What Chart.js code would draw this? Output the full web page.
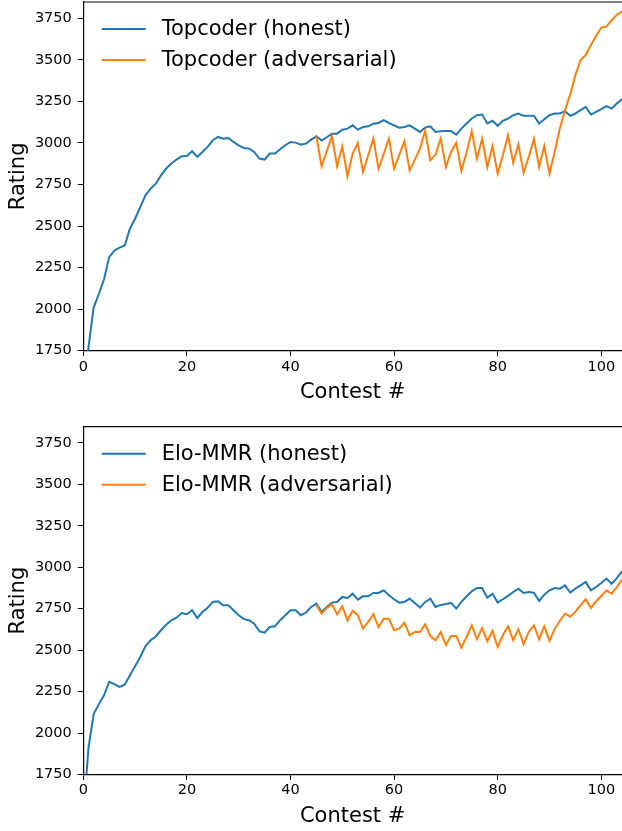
<!DOCTYPE html>
<html>
<head>
<meta charset="utf-8">
<script src="https://cdn.jsdelivr.net/npm/chart.js@4.4.1/dist/chart.umd.min.js"></script>
<style>
  html, body { margin: 0; padding: 0; background: #fff; }
  body { width: 622px; height: 831px; position: relative; overflow: hidden; }
  .box { position: absolute; left: 0; width: 622px; }
  #topBox { top: 0; height: 413px; }
  #botBox { top: 413px; height: 418px; }
</style>
</head>
<body>
<div class="box" id="topBox"><canvas id="topChart"></canvas></div>
<div class="box" id="botBox"><canvas id="botChart"></canvas></div>
<script>
// ratings per contest, honest series start at contest 0, adversarial at advStart
const advStart = 45;

const topcoderHonest = [
  1500, 1770, 2011, 2090, 2180, 2313, 2353, 2370, 2383, 2484,
  2544, 2614, 2685, 2725, 2755, 2805, 2846, 2876, 2900, 2920,
  2922, 2950, 2916, 2946, 2976, 3016, 3036, 3026, 3030, 3006,
  2986, 2970, 2966, 2946, 2906, 2900, 2936, 2936, 2962, 2986,
  3006, 3002, 2990, 2996, 3020, 3040, 3014, 3034, 3056, 3056,
  3080, 3086, 3106, 3080, 3096, 3100, 3116, 3120, 3137, 3120,
  3106, 3092, 3096, 3106, 3086, 3066, 3092, 3100, 3066, 3070,
  3072, 3072, 3050, 3086, 3117, 3147, 3167, 3171, 3117, 3133,
  3103, 3133, 3147, 3167, 3177, 3163, 3163, 3163, 3117, 3143,
  3167, 3177, 3177, 3191, 3163, 3177, 3197, 3217, 3171, 3187,
  3203, 3221, 3207, 3237, 3264
];
const topcoderAdv = [
  3040, 2860, 2950, 3040, 2860, 2980, 2800, 2936, 3000, 2825,
  2925, 3026, 2845, 2935, 3026, 2845, 2928, 3012, 2835, 2900,
  2966, 3073, 2895, 2930, 3026, 2855, 2946, 3000, 2831, 2946,
  3071, 2906, 3026, 2855, 2982, 2815, 2926, 3046, 2880, 2992,
  2821, 2916, 3026, 2855, 2982, 2815, 2946, 3087, 3197, 3292,
  3408, 3499, 3529, 3589, 3643, 3694, 3700, 3740, 3770, 3794
];
const eloHonest = [
  1500, 1910, 2114, 2174, 2228, 2309, 2295, 2278, 2292, 2349,
  2403, 2459, 2524, 2560, 2584, 2620, 2654, 2680, 2696, 2724,
  2717, 2741, 2694, 2730, 2755, 2791, 2795, 2771, 2771, 2741,
  2711, 2687, 2681, 2660, 2614, 2606, 2640, 2644, 2681, 2711,
  2741, 2741, 2711, 2727, 2761, 2781, 2731, 2761, 2787, 2791,
  2821, 2815, 2841, 2805, 2825, 2825, 2845, 2845, 2861, 2831,
  2807, 2787, 2791, 2811, 2785, 2757, 2791, 2811, 2761, 2773,
  2778, 2785, 2751, 2791, 2825, 2855, 2875, 2875, 2817, 2841,
  2787, 2807, 2827, 2851, 2871, 2845, 2851, 2847, 2797, 2835,
  2861, 2875, 2871, 2891, 2847, 2871, 2891, 2912, 2861, 2881,
  2905, 2932, 2901, 2935, 2976
];
const eloAdv = [
  2771, 2721, 2755, 2777, 2717, 2765, 2680, 2737, 2711, 2630,
  2670, 2717, 2640, 2690, 2690, 2620, 2630, 2666, 2590, 2610,
  2610, 2656, 2584, 2560, 2610, 2532, 2586, 2586, 2516, 2580,
  2650, 2566, 2634, 2554, 2616, 2520, 2590, 2644, 2560, 2626,
  2536, 2610, 2650, 2566, 2644, 2556, 2628, 2676, 2721, 2701,
  2731, 2771, 2807, 2755, 2795, 2827, 2861, 2841, 2881, 2926
];

const xTicks = [0, 20, 40, 60, 80, 100];
const yTicks = [1750, 2000, 2250, 2500, 2750, 3000, 3250, 3500, 3750];

const BLUE = '#1f77b4';
const ORANGE = '#ff7f0e';
const FONT = '"DejaVu Sans", sans-serif';

const toPoints = (values, start) => values.map((v, i) => ({ x: start + i, y: v }));

// top spine + legend drawn inside the axes like matplotlib
const frameAndLegend = {
  id: 'frameAndLegend',
  afterDatasetsDraw(chart) {
    const { ctx, chartArea: a } = chart;
    ctx.save();
    ctx.strokeStyle = '#000';
    ctx.lineWidth = 1.2;
    ctx.beginPath();
    ctx.moveTo(a.left, a.top);
    ctx.lineTo(a.right + 2, a.top);
    ctx.stroke();

    ctx.font = '21px ' + FONT;
    ctx.textBaseline = 'middle';
    ctx.textAlign = 'left';
    chart.data.datasets.forEach((ds, i) => {
      const y = a.top + 27 + i * 31;
      ctx.strokeStyle = ds.borderColor;
      ctx.lineWidth = 2;
      ctx.beginPath();
      ctx.moveTo(101.7, y);
      ctx.lineTo(145.7, y);
      ctx.stroke();
      ctx.fillStyle = '#000';
      ctx.fillText(ds.label, 161.7, y + 1);
    });
    ctx.restore();
  }
};

function makeChart(id, honest, adv, names, opts) {
  return new Chart(document.getElementById(id), {
    type: 'line',
    data: {
      datasets: [
        {
          label: names[0],
          data: toPoints(honest, 0),
          borderColor: BLUE,
          borderWidth: 2,
          pointRadius: 0,
          tension: 0,
          order: 1,
        },
        {
          label: names[1],
          data: toPoints(adv, advStart),
          borderColor: ORANGE,
          borderWidth: 2,
          pointRadius: 0,
          tension: 0,
          order: 0,
        },
      ],
    },
    options: {
      animation: false,
      responsive: true,
      maintainAspectRatio: false,
      devicePixelRatio: 1,
      layout: { padding: { top: opts.padTop, left: 0, right: 0, bottom: 0 } },
      plugins: {
        legend: { display: false },
        tooltip: { enabled: false },
      },
      scales: {
        x: {
          type: 'linear',
          min: 0,
          max: 104,
          afterBuildTicks: (s) => { s.ticks = xTicks.map((v) => ({ value: v })); },
          afterFit: (s) => {
            s.height = opts.xHeight;
            s.paddingLeft = 0;
            s.paddingRight = 0;
          },
          ticks: {
            color: '#000',
            padding: 2,
            maxRotation: 0,
            autoSkip: false,
            callback: (v) => String(v),
            font: { family: FONT, size: 14.5 },
          },
          grid: {
            display: true,
            drawOnChartArea: false,
            drawTicks: true,
            tickLength: 5.5,
            color: '#000',
            lineWidth: 1,
          },
          border: { display: true, color: '#000', width: 1.2 },
          title: {
            display: true,
            text: 'Contest #',
            color: '#000',
            font: { family: FONT, size: 21 },
            padding: { top: 0, bottom: opts.titlePad },
          },
        },
        y: {
          type: 'linear',
          min: 1750,
          max: 3848,
          afterBuildTicks: (s) => { s.ticks = yTicks.map((v) => ({ value: v })); },
          afterFit: (s) => {
            s.width = 83.3;
            s.paddingTop = 0;
            s.paddingBottom = 0;
          },
          ticks: {
            color: '#000',
            padding: 6,
            autoSkip: false,
            callback: (v) => String(v),
            font: { family: FONT, size: 14.5 },
          },
          grid: {
            display: true,
            drawOnChartArea: false,
            drawTicks: true,
            tickLength: 5.5,
            color: '#000',
            lineWidth: 1,
          },
          border: { display: true, color: '#000', width: 1.2 },
          title: {
            display: true,
            text: 'Rating',
            color: '#000',
            font: { family: FONT, size: 21 },
            padding: { top: 6, bottom: 0 },
          },
        },
      },
    },
    plugins: [frameAndLegend],
  });
}

makeChart('topChart', topcoderHonest, topcoderAdv,
  ['Topcoder (honest)', 'Topcoder (adversarial)'],
  { padTop: 2, xHeight: 62.3, titlePad: 7.9 });

makeChart('botChart', eloHonest, eloAdv,
  ['Elo-MMR (honest)', 'Elo-MMR (adversarial)'],
  { padTop: 13.7, xHeight: 56.5, titlePad: 2.1 });
</script>
</body>
</html>
